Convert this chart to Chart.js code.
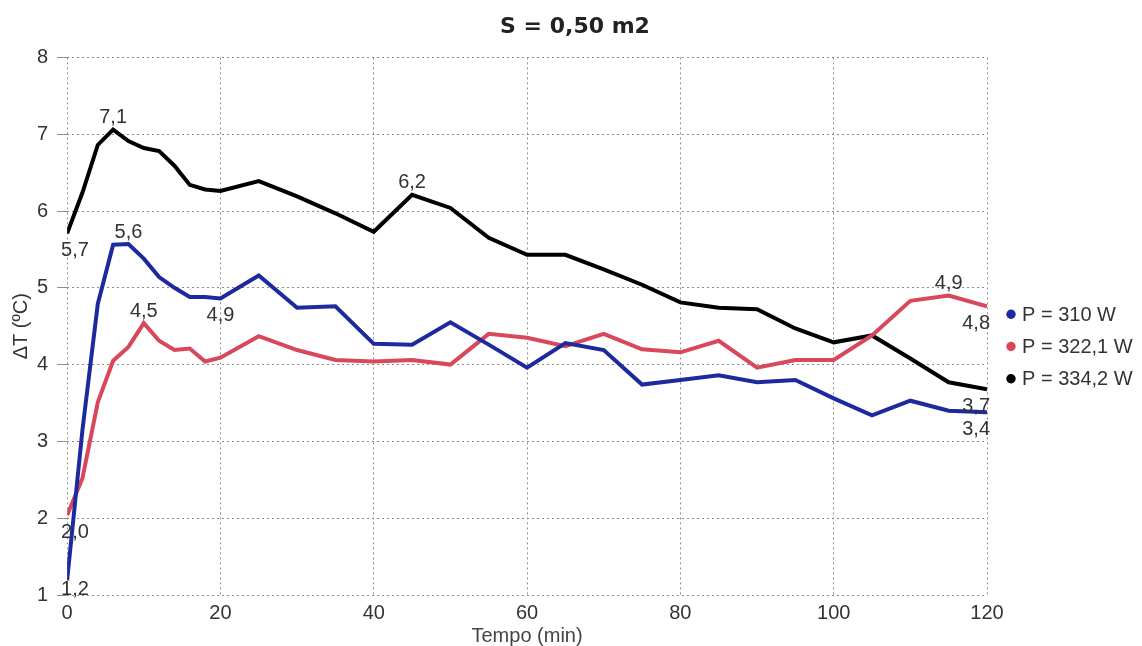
<!DOCTYPE html>
<html lang="pt">
<head>
<meta charset="utf-8">
<title>S = 0,50 m2</title>
<script src="https://cdn.jsdelivr.net/npm/chart.js@4/dist/chart.umd.min.js"></script>
<style>
    html, body { margin: 0; padding: 0; background: #fff; }
    #grafico { display: block; }
</style>
</head>
<body>
<canvas id="grafico" width="1142" height="646"></canvas>
<script>
// tempo (min)
const tempo = [0, 2, 4, 6, 8, 10, 12, 14, 16, 18, 20, 25, 30, 35, 40, 45, 50, 55, 60, 65, 70, 75, 80, 85, 90, 95, 100, 105, 110, 115, 120];

// ΔT (ºC) para cada potência
const dt310 = [1.19, 3.15, 4.79, 5.56, 5.57, 5.38, 5.14, 5.00, 4.88, 4.88, 4.86, 5.16, 4.74, 4.76, 4.27, 4.26, 4.55, 4.26, 3.96, 4.28, 4.19, 3.74, 3.80, 3.86, 3.77, 3.80, 3.56, 3.34, 3.53, 3.40, 3.38];
const dt3221 = [2.04, 2.52, 3.51, 4.05, 4.23, 4.54, 4.31, 4.19, 4.21, 4.04, 4.09, 4.37, 4.19, 4.06, 4.04, 4.06, 4.00, 4.40, 4.35, 4.24, 4.40, 4.20, 4.16, 4.31, 3.96, 4.06, 4.06, 4.38, 4.83, 4.90, 4.76];
const dt3342 = [5.71, 6.24, 6.86, 7.06, 6.91, 6.82, 6.78, 6.59, 6.34, 6.28, 6.26, 6.39, 6.19, 5.97, 5.73, 6.21, 6.04, 5.65, 5.43, 5.43, 5.24, 5.04, 4.81, 4.74, 4.72, 4.47, 4.29, 4.38, 4.08, 3.77, 3.68];

const series = ['P = 310 W', 'P = 322,1 W', 'P = 334,2 W'];
const cores = ['#1c2a9e', '#d9485a', '#000000'];

// eixos
const eixoX = { min: 0, max: 120, passo: 20 };
const eixoY = { min: 1, max: 8, passo: 1 };

// pontos com valor escrito: índice em tempo -> acima / abaixo
const rotulos = [
    { 0: 'abaixo', 4: 'acima', 10: 'abaixo', 30: 'abaixo' },
    { 0: 'abaixo', 5: 'acima', 29: 'acima', 30: 'abaixo' },
    { 0: 'abaixo', 3: 'acima', 15: 'acima', 30: 'abaixo' }
];

const fonte = '"Liberation Sans", Arial, sans-serif';

function pontos(valores) {
    return tempo.map((t, i) => ({ x: t, y: valores[i] }));
}

function formata(v) {
    return v.toFixed(1).replace('.', ',');
}

// escreve o valor junto aos pontos escolhidos
const valoresNosPontos = {
    id: 'valoresNosPontos',
    afterDatasetsDraw(chart) {
        const ctx = chart.ctx;
        const area = chart.chartArea;
        ctx.save();
        ctx.font = '20px ' + fonte;
        ctx.fillStyle = '#333';
        ctx.textAlign = 'center';
        ctx.textBaseline = 'middle';
        chart.data.datasets.forEach((ds, d) => {
            const meta = chart.getDatasetMeta(d);
            Object.keys(rotulos[d]).forEach(k => {
                const i = Number(k);
                const el = meta.data[i];
                const texto = formata(ds.data[i].y);
                const w = ctx.measureText(texto).width;
                let x = el.x;
                let y = rotulos[d][k] == 'acima' ? el.y - 12 : el.y + 17;
                x = Math.max(x, area.left - 6 + w / 2);
                x = Math.min(x, area.right + 3 - w / 2);
                y = Math.min(y, area.bottom - 6);
                ctx.fillText(texto, x, y);
            });
        });
        ctx.restore();
    }
};

// legenda à direita: entra no layout como uma caixa própria
const legendaLateral = {
    id: 'legendaLateral',
    beforeInit(chart) {
        const caixa = {
            position: 'right',
            fullSize: false,
            weight: 1000,
            options: {},
            isHorizontal() { return false; },
            update(maxWidth, maxHeight) {
                this.width = 155;
                this.height = maxHeight;
            },
            draw() {
                const ctx = chart.ctx;
                const area = chart.chartArea;
                const meio = (area.top + area.bottom) / 2;
                ctx.save();
                ctx.font = '20px ' + fonte;
                ctx.textBaseline = 'middle';
                ctx.textAlign = 'left';
                chart.data.datasets.forEach((ds, d) => {
                    const y = meio - 12 + d * 32.3;
                    ctx.fillStyle = ds.borderColor;
                    ctx.beginPath();
                    ctx.arc(this.left + 24, y, 4.7, 0, Math.PI * 2);
                    ctx.fill();
                    ctx.fillStyle = '#333';
                    ctx.fillText(ds.label, this.left + 35, y + 1);
                });
                ctx.restore();
            }
        };
        Chart.layouts.addBox(chart, caixa);
    }
};

new Chart(document.getElementById('grafico'), {
    type: 'line',
    data: {
        datasets: series.map((nome, d) => ({
            label: nome,
            data: pontos([dt310, dt3221, dt3342][d]),
            borderColor: cores[d],
            backgroundColor: cores[d],
            borderWidth: 4,
            pointRadius: 0,
            pointHoverRadius: 0,
            tension: 0,
            fill: false
        }))
    },
    options: {
        responsive: false,
        animation: false,
        layout: {
            padding: { top: 8, left: 8, right: 0, bottom: 0 }
        },
        plugins: {
            title: {
                display: true,
                text: 'S = 0,50 m2',
                color: '#222',
                font: { family: '"DejaVu Sans", Verdana, sans-serif', size: 22, weight: 'bold', lineHeight: 1.2 },
                padding: { top: 6, bottom: 17 }
            },
            legend: { display: false },
            tooltip: { enabled: false }
        },
        scales: {
            x: {
                type: 'linear',
                min: eixoX.min,
                max: eixoX.max,
                border: { display: false, dash: [2, 3] },
                grid: { color: '#8c8c8c', lineWidth: 1, drawTicks: false },
                ticks: {
                    stepSize: eixoX.passo,
                    padding: 8,
                    color: '#333',
                    font: { family: fonte, size: 20, lineHeight: 1 }
                },
                title: {
                    display: true,
                    text: 'Tempo (min)',
                    color: '#444',
                    padding: { top: -5, bottom: 0 },
                    font: { family: fonte, size: 20, lineHeight: 1 }
                }
            },
            y: {
                min: eixoY.min,
                max: eixoY.max,
                border: { display: false, dash: [2, 3] },
                grid: { color: '#8c8c8c', lineWidth: 1, tickLength: 10, tickColor: '#8c8c8c' },
                ticks: {
                    stepSize: eixoY.passo,
                    padding: 9,
                    color: '#333',
                    font: { family: fonte, size: 20, lineHeight: 1 }
                },
                title: {
                    display: true,
                    text: 'ΔT (ºC)',
                    color: '#333',
                    padding: { top: 3, bottom: -3 },
                    font: { family: fonte, size: 20, lineHeight: 1 }
                }
            }
        }
    },
    plugins: [valoresNosPontos, legendaLateral]
});
</script>
</body>
</html>
